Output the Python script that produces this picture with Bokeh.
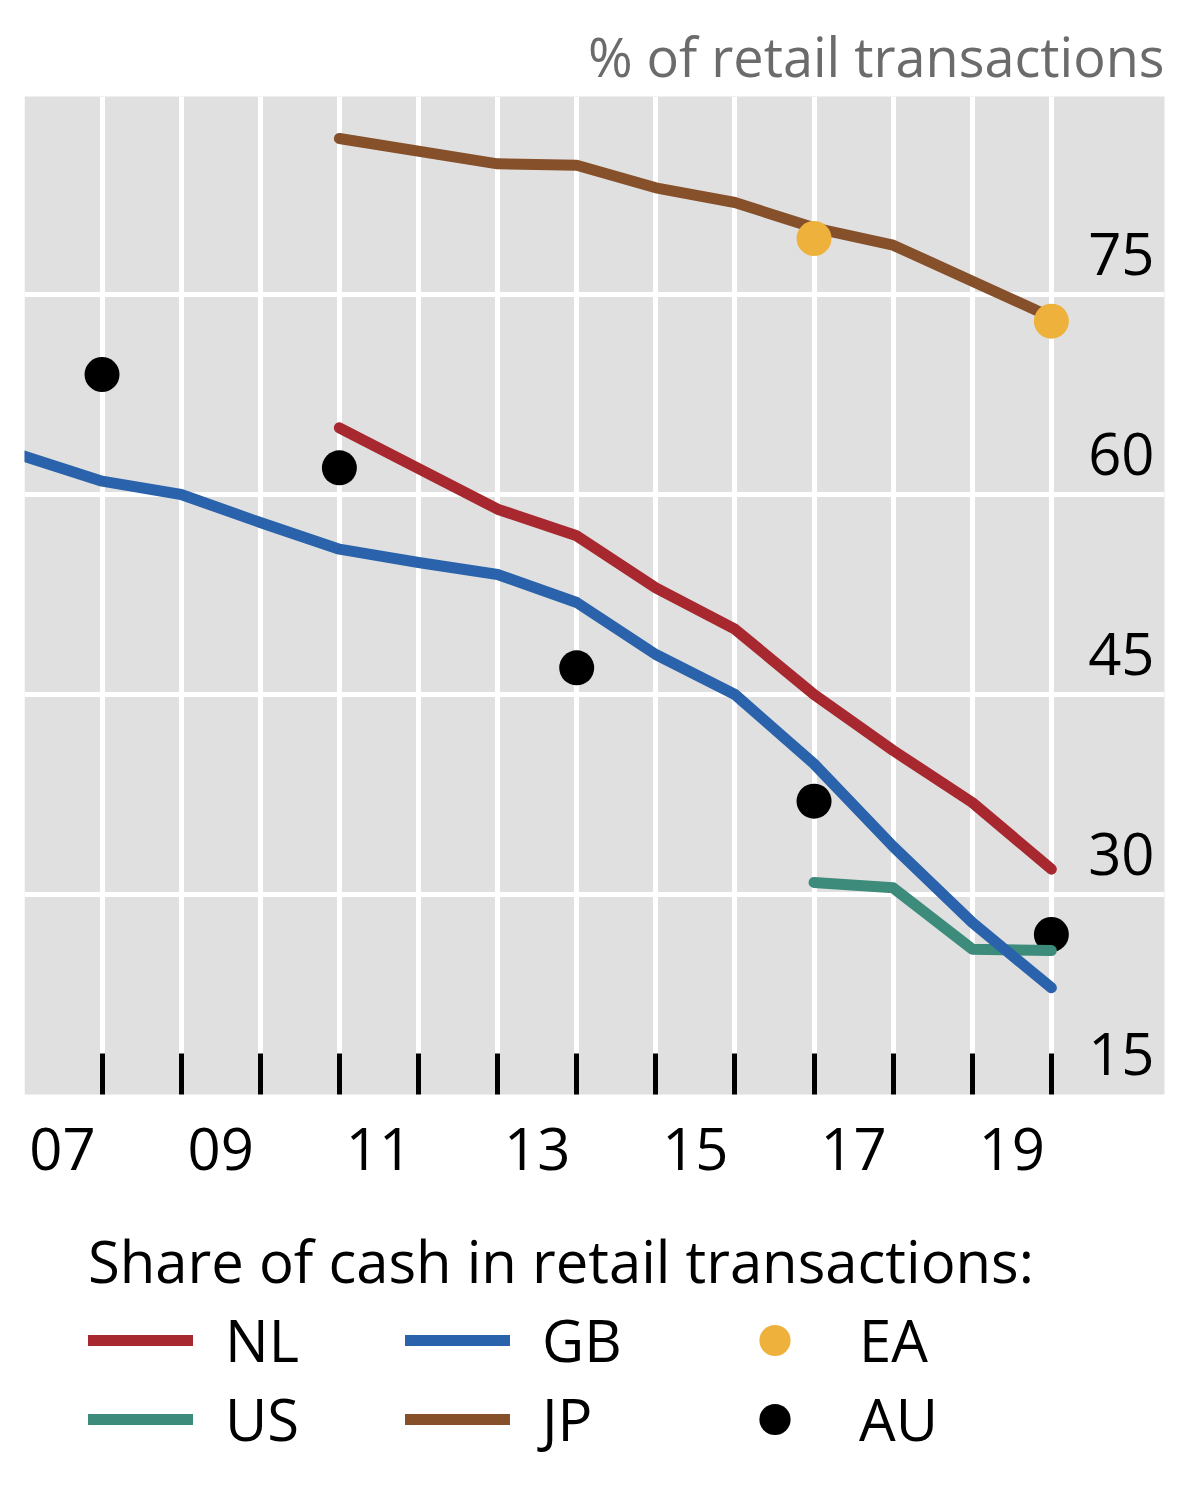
from bokeh.plotting import figure
from bokeh.models import (Range1d, FixedTicker, LinearAxis, Legend, LegendItem, Grid,
                          CustomJSTickFormatter)
from bokeh.layouts import column
from bokeh.core.properties import value
from bokeh.embed import file_html
from bokeh.resources import INLINE

FONT = "Open Sans"

# ---------------- data ----------------
nl_years = [2011, 2013, 2014, 2015, 2016, 2017, 2018, 2019, 2020]
nl_vals = [65.0, 58.9, 56.9, 53.0, 49.9, 45.0, 40.8, 36.9, 31.9]

gb_years = [2007, 2008, 2009, 2010, 2011, 2012, 2013, 2014, 2015, 2016, 2017, 2018, 2019, 2020]
gb_vals = [62.9, 61.0, 60.0, 57.9, 55.9, 54.9, 54.0, 51.9, 48.0, 45.0, 39.8, 33.6, 27.9, 23.0]

us_years = [2017, 2018, 2019, 2020]
us_vals = [30.9, 30.5, 25.9, 25.8]

jp_years = [2011, 2013, 2014, 2015, 2016, 2017, 2018, 2020]
jp_vals = [86.7, 84.8, 84.7, 83.0, 81.9, 80.0, 78.7, 73.3]

ea_years = [2017, 2020]
ea_vals = [79.2, 73.0]

au_years = [2008, 2011, 2014, 2017, 2020]
au_vals = [69.0, 62.0, 47.0, 37.0, 27.0]

grid_years = [2007, 2008, 2009, 2010, 2011, 2012, 2013, 2014, 2015, 2016, 2017, 2018, 2019, 2020]
label_years = [2007, 2009, 2011, 2013, 2015, 2017, 2019]
x_labels = ["07", "09", "11", "13", "15", "17", "19"]
y_ticks = [15, 30, 45, 60, 75]
y_labels = ["15", "30", "45", "60", "75"]

X_START, X_END = 2007.02, 2021.43
Y_START, Y_END = 15, 89.85

RED = "#a8282f"
BLUE = "#2a63ab"
GREEN = "#3d8b7a"
BROWN = "#86502b"
ORANGE = "#eeb23c"
BLACK = "#000000"
LW = 11
DOT = 35

series = [
    # name, kind, years, values, colour
    ("AU", "dot", au_years, au_vals, BLACK),
    ("US", "line", us_years, us_vals, GREEN),
    ("GB", "line", gb_years, gb_vals, BLUE),
    ("NL", "line", nl_years, nl_vals, RED),
    ("JP", "line", jp_years, jp_vals, BROWN),
    ("EA", "dot", ea_years, ea_vals, ORANGE),
]
legend_order = ["NL", "GB", "EA", "US", "JP", "AU"]


def draw(fig, visible=True):
    out = {}
    for name, kind, xs, ys, col in series:
        if kind == "line":
            out[name] = fig.line(xs, ys, line_color=col, line_width=LW, line_cap="round",
                                 line_join="round", visible=visible)
        else:
            out[name] = fig.scatter(xs, ys, size=DOT, fill_color=col, line_color=None,
                                    visible=visible)
    return out


# ---------------- main chart ----------------
p = figure(width=1184, height=1219,
           x_range=Range1d(X_START, X_END), y_range=Range1d(Y_START, Y_END),
           output_backend="svg", toolbar_location=None,
           x_axis_location=None, y_axis_location=None,
           min_border_left=24, min_border_right=20,
           min_border_top=96, min_border_bottom=125)
p.background_fill_color = "#e0e0e0"
p.border_fill_color = "white"
p.outline_line_color = None
for g in list(p.grid):
    g.visible = False

p.title.text = "% of retail transactions"
p.title.align = "right"
p.title.text_font = FONT
p.title.text_font_size = "54px"
p.title.text_font_style = "normal"
p.title.text_color = "#6b6b6b"
p.title.standoff = 7

p.add_layout(Grid(dimension=0, ticker=FixedTicker(ticks=grid_years),
                  grid_line_color="white", grid_line_width=5))
p.add_layout(Grid(dimension=1, ticker=FixedTicker(ticks=y_ticks),
                  grid_line_color="white", grid_line_width=5))

# tick-mark axis (year boundaries)
tick_axis = LinearAxis(ticker=FixedTicker(ticks=grid_years),
                       formatter=CustomJSTickFormatter(code="return ''"),
                       major_tick_in=41, major_tick_out=0,
                       major_tick_line_width=5, major_tick_line_color="black",
                       minor_tick_line_color=None, axis_line_color=None,
                       major_label_text_font_size="1px", major_label_standoff=0)
p.add_layout(tick_axis, "below")

# label axis (labels centred in each year)
label_pos = [y + 0.5 for y in label_years]
label_axis = LinearAxis(ticker=FixedTicker(ticks=label_pos),
                        major_label_overrides={pos: lab for pos, lab in zip(label_pos, x_labels)},
                        major_tick_in=0, major_tick_out=0,
                        minor_tick_line_color=None, axis_line_color=None,
                        major_label_text_font=FONT, major_label_text_font_size="58px",
                        major_label_text_color="black", major_label_standoff=33)
p.add_layout(label_axis, "below")

# y labels, drawn inside the plot on the right, above each gridline
p.text(x=[X_END] * len(y_ticks), y=y_ticks, text=y_labels,
       text_align="right", text_baseline="bottom", x_offset=-10, y_offset=-20,
       text_font=value(FONT), text_font_size="58px", text_color="black")

draw(p)

# ---------------- legend panel ----------------
q = figure(width=1184, height=271, x_range=Range1d(X_START, X_END),
           y_range=Range1d(Y_START, Y_END),
           output_backend="svg", toolbar_location=None,
           x_axis_location=None, y_axis_location=None, min_border=0)
q.background_fill_color = None
q.border_fill_color = "white"
q.outline_line_color = None
for g in list(q.grid):
    g.visible = False
proxies = draw(q, visible=False)

legend = Legend(items=[LegendItem(label=n, renderers=[proxies[n]]) for n in legend_order],
                title="Share of cash in retail transactions:",
                orientation="horizontal", ncols=3,
                location=(64, 32),
                title_text_font=FONT, title_text_font_size="58px",
                title_text_font_style="normal", title_text_color="black",
                title_standoff=0,
                label_text_font=FONT, label_text_font_size="58px", label_text_color="black",
                glyph_width=105, glyph_height=78, label_standoff=32, label_width=180,
                spacing=0, padding=0, margin=0,
                inactive_fill_alpha=0,
                border_line_color=None, background_fill_alpha=0)
q.add_layout(legend, "center")

layout = column(p, q, spacing=0)
open("out.html", "w").write(file_html(layout, INLINE))
